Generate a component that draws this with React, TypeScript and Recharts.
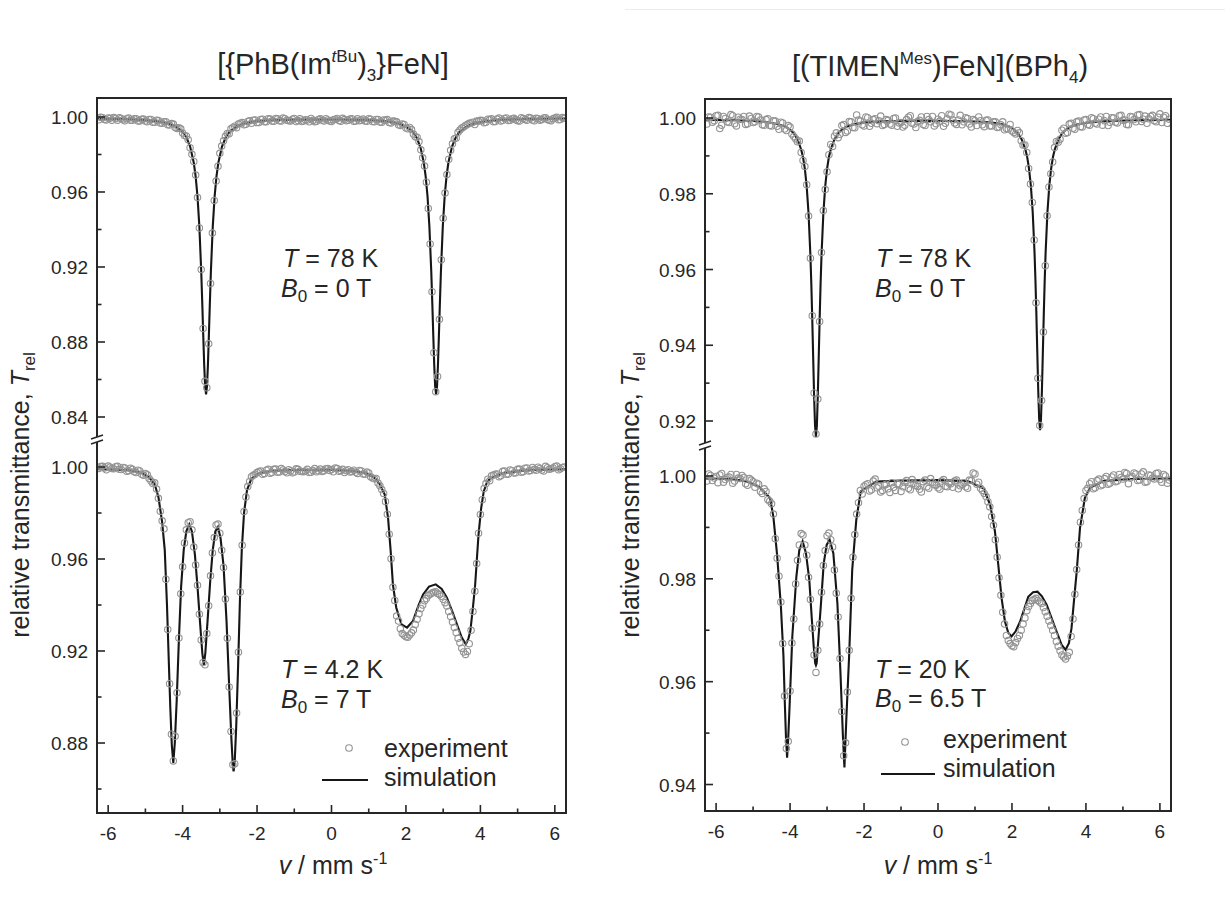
import React from 'react';
import { ComposedChart, Line, Scatter, XAxis, YAxis } from 'recharts';

// ---------- velocity channels (mm/s) of the experimental spectra ----------
const velocityA = [
  -6.2, -6.1, -6.0, -5.9, -5.8, -5.7, -5.6, -5.5, -5.4, -5.3,
  -5.2, -5.1, -5.0, -4.9, -4.8, -4.7, -4.6, -4.5, -4.4, -4.3,
  -4.2, -4.1, -4.0, -3.9, -3.8, -3.7, -3.6, -3.5, -3.4, -3.3,
  -3.2, -3.1, -3.0, -2.9, -2.8, -2.7, -2.6, -2.5, -2.4, -2.3,
  -2.2, -2.1, -2.0, -1.9, -1.8, -1.7, -1.6, -1.5, -1.4, -1.3,
  -1.2, -1.1, -1.0, -0.9, -0.8, -0.7, -0.6, -0.5, -0.4, -0.3,
  -0.2, -0.1, 0.0, 0.1, 0.2, 0.3, 0.4, 0.5, 0.6, 0.7,
  0.8, 0.9, 1.0, 1.1, 1.2, 1.3, 1.4, 1.5, 1.6, 1.7,
  1.8, 1.9, 2.0, 2.1, 2.2, 2.3, 2.4, 2.5, 2.6, 2.7,
  2.8, 2.9, 3.0, 3.1, 3.2, 3.3, 3.4, 3.5, 3.6, 3.7,
  3.8, 3.9, 4.0, 4.1, 4.2, 4.3, 4.4, 4.5, 4.6, 4.7,
  4.8, 4.9, 5.0, 5.1, 5.2, 5.3, 5.4, 5.5, 5.6, 5.7,
  5.8, 5.9, 6.0, 6.1, 6.2,
];
const velocityB = [
  -6.25, -6.15, -6.05, -5.95, -5.85, -5.75, -5.65, -5.55, -5.45, -5.35,
  -5.25, -5.15, -5.05, -4.95, -4.85, -4.75, -4.65, -4.55, -4.45, -4.35,
  -4.25, -4.15, -4.05, -3.95, -3.85, -3.75, -3.65, -3.55, -3.45, -3.35,
  -3.25, -3.15, -3.05, -2.95, -2.85, -2.75, -2.65, -2.55, -2.45, -2.35,
  -2.25, -2.15, -2.05, -1.95, -1.85, -1.75, -1.65, -1.55, -1.45, -1.35,
  -1.25, -1.15, -1.05, -0.95, -0.85, -0.75, -0.65, -0.55, -0.45, -0.35,
  -0.25, -0.15, -0.05, 0.05, 0.15, 0.25, 0.35, 0.45, 0.55, 0.65,
  0.75, 0.85, 0.95, 1.05, 1.15, 1.25, 1.35, 1.45, 1.55, 1.65,
  1.75, 1.85, 1.95, 2.05, 2.15, 2.25, 2.35, 2.45, 2.55, 2.65,
  2.75, 2.85, 2.95, 3.05, 3.15, 3.25, 3.35, 3.45, 3.55, 3.65,
  3.75, 3.85, 3.95, 4.05, 4.15, 4.25, 4.35, 4.45, 4.55, 4.65,
  4.75, 4.85, 4.95, 5.05, 5.15, 5.25, 5.35, 5.45, 5.55, 5.65,
  5.75, 5.85, 5.95, 6.05, 6.15, 6.25,
];

// ---------- [{PhB(Im^tBu)3}FeN], T = 78 K, B0 = 0 T ----------
const expPhB78A = [
  0.9998, 0.9986, 0.9995, 0.9983, 0.9992, 0.9996, 0.9985, 0.9991, 0.9982, 0.9990,
  0.9979, 0.9988, 0.9978, 0.9986, 0.9972, 0.9983, 0.9968, 0.9974, 0.9958, 0.9965,
  0.9944, 0.9942, 0.9914, 0.9899, 0.9836, 0.9763, 0.9570, 0.9186, 0.8590, 0.8790,
  0.9381, 0.9658, 0.9806, 0.9873, 0.9912, 0.9937, 0.9951, 0.9962, 0.9970, 0.9961,
  0.9980, 0.9983, 0.9970, 0.9987, 0.9975, 0.9991, 0.9978, 0.9992, 0.9980, 0.9994,
  0.9983, 0.9979, 0.9992, 0.9981, 0.9976, 0.9985, 0.9974, 0.9982, 0.9977, 0.9990,
  0.9978, 0.9984, 0.9976, 0.9988, 0.9981, 0.9993, 0.9980, 0.9989, 0.9977, 0.9990,
  0.9983, 0.9978, 0.9991, 0.9976, 0.9987, 0.9973, 0.9984, 0.9986, 0.9968, 0.9977,
  0.9958, 0.9963, 0.9941, 0.9944, 0.9909, 0.9892, 0.9825, 0.9738, 0.9512, 0.9068,
  0.8535, 0.8921, 0.9460, 0.9693, 0.9822, 0.9884, 0.9918, 0.9941, 0.9955, 0.9966,
  0.9972, 0.9978, 0.9982, 0.9969, 0.9988, 0.9990, 0.9976, 0.9994, 0.9982, 0.9995,
  0.9983, 0.9993, 0.9980, 0.9996, 0.9986, 0.9997, 0.9984, 0.9993, 0.9982, 0.9995,
  0.9987, 0.9980, 0.9994, 0.9985, 0.9997,
];
const expPhB78B = [
  0.9985, 0.9996, 0.9984, 0.9993, 0.9997, 0.9983, 0.9992, 0.9980, 0.9994, 0.9983,
  0.9991, 0.9978, 0.9989, 0.9975, 0.9987, 0.9972, 0.9981, 0.9966, 0.9975, 0.9957,
  0.9962, 0.9939, 0.9937, 0.9901, 0.9879, 0.9801, 0.9690, 0.9408, 0.8872, 0.8556,
  0.9112, 0.9555, 0.9737, 0.9845, 0.9897, 0.9911, 0.9944, 0.9943, 0.9967, 0.9958,
  0.9976, 0.9966, 0.9984, 0.9971, 0.9988, 0.9974, 0.9989, 0.9977, 0.9990, 0.9979,
  0.9991, 0.9980, 0.9988, 0.9976, 0.9990, 0.9979, 0.9984, 0.9992, 0.9975, 0.9986,
  0.9983, 0.9991, 0.9979, 0.9985, 0.9992, 0.9977, 0.9986, 0.9982, 0.9991, 0.9979,
  0.9980, 0.9989, 0.9977, 0.9988, 0.9975, 0.9986, 0.9972, 0.9983, 0.9970, 0.9978,
  0.9974, 0.9955, 0.9960, 0.9937, 0.9933, 0.9895, 0.9869, 0.9782, 0.9652, 0.9323,
  0.8743, 0.8616, 0.9239, 0.9594, 0.9775, 0.9857, 0.9888, 0.9930, 0.9947, 0.9960,
  0.9968, 0.9960, 0.9977, 0.9981, 0.9972, 0.9986, 0.9975, 0.9989, 0.9979, 0.9992,
  0.9981, 0.9990, 0.9985, 0.9978, 0.9992, 0.9983, 0.9995, 0.9980, 0.9991, 0.9986,
  0.9996, 0.9983, 0.9990, 0.9998, 0.9986, 0.9993,
];
const simPhB78 = [
  [-6.3, 0.9991], [-5.8, 0.999], [-5.3, 0.9987], [-4.9, 0.9982], [-4.6, 0.9975], [-4.4, 0.9966],
  [-4.2, 0.9951], [-4.0, 0.9921], [-3.9, 0.9892], [-3.8, 0.9844], [-3.7, 0.9756], [-3.65, 0.9683],
  [-3.6, 0.9576], [-3.55, 0.9415], [-3.5, 0.9177], [-3.47, 0.8995], [-3.445, 0.8832], [-3.42, 0.8677],
  [-3.395, 0.8563], [-3.37, 0.852], [-3.345, 0.8563], [-3.32, 0.8677], [-3.295, 0.8832], [-3.27, 0.8995],
  [-3.24, 0.9177], [-3.19, 0.9415], [-3.14, 0.9576], [-3.09, 0.9683], [-3.04, 0.9756], [-2.94, 0.9844],
  [-2.84, 0.9892], [-2.74, 0.9921], [-2.54, 0.9951], [-2.34, 0.9966], [-2.04, 0.9977], [-1.5, 0.9984],
  [-1.0, 0.9986], [0, 0.9987], [1.0, 0.9984], [1.4, 0.9979], [1.7, 0.997], [1.9, 0.9958],
  [2.1, 0.9936], [2.2, 0.9916], [2.3, 0.9885], [2.4, 0.9831], [2.48, 0.9756], [2.53, 0.9683],
  [2.58, 0.9576], [2.63, 0.9415], [2.68, 0.9177], [2.71, 0.8995], [2.735, 0.8832], [2.76, 0.8677],
  [2.785, 0.8563], [2.81, 0.852], [2.835, 0.8563], [2.86, 0.8677], [2.885, 0.8832], [2.91, 0.8995],
  [2.94, 0.9177], [2.99, 0.9415], [3.04, 0.9576], [3.09, 0.9683], [3.14, 0.9756], [3.24, 0.9844],
  [3.34, 0.9892], [3.44, 0.9921], [3.64, 0.9951], [3.84, 0.9966], [4.14, 0.9977], [4.6, 0.9985],
  [5.2, 0.9989], [6.3, 0.9992],
];

// ---------- [{PhB(Im^tBu)3}FeN], T = 4.2 K, B0 = 7 T ----------
const expPhB42A = [
  1.0002, 0.9996, 1.0004, 0.9993, 1.0001, 0.9990, 0.9998, 0.9982, 0.9995, 0.9979,
  0.9986, 0.9968, 0.9972, 0.9950, 0.9928, 0.9904, 0.9808, 0.9731, 0.9294, 0.8838,
  0.8829, 0.9257, 0.9566, 0.9727, 0.9762, 0.9652, 0.9486, 0.9248, 0.9140, 0.9397,
  0.9626, 0.9748, 0.9712, 0.9563, 0.9256, 0.8850, 0.8710, 0.9195, 0.9660, 0.9870,
  0.9937, 0.9964, 0.9976, 0.9983, 0.9972, 0.9990, 0.9976, 0.9991, 0.9978, 0.9987,
  0.9975, 0.9983, 0.9978, 0.9990, 0.9980, 0.9983, 0.9976, 0.9985, 0.9979, 0.9991,
  0.9984, 0.9994, 0.9989, 0.9996, 0.9982, 0.9990, 0.9984, 0.9978, 0.9986, 0.9972,
  0.9983, 0.9969, 0.9974, 0.9952, 0.9950, 0.9918, 0.9885, 0.9795, 0.9601, 0.9420,
  0.9330, 0.9276, 0.9262, 0.9270, 0.9291, 0.9338, 0.9385, 0.9418, 0.9441, 0.9452,
  0.9458, 0.9446, 0.9425, 0.9396, 0.9350, 0.9302, 0.9255, 0.9212, 0.9185, 0.9232,
  0.9372, 0.9580, 0.9794, 0.9906, 0.9947, 0.9962, 0.9969, 0.9958, 0.9981, 0.9968,
  0.9987, 0.9974, 0.9990, 0.9977, 0.9995, 0.9983, 0.9998, 0.9986, 0.9994, 0.9983,
  0.9997, 0.9992, 1.0001, 0.9988, 0.9998,
];
const expPhB42B = [
  0.9994, 1.0003, 0.9988, 0.9999, 0.9992, 1.0003, 0.9989, 0.9996, 0.9984, 0.9990,
  0.9976, 0.9983, 0.9964, 0.9966, 0.9939, 0.9931, 0.9864, 0.9766, 0.9512, 0.9058,
  0.8722, 0.9018, 0.9449, 0.9670, 0.9758, 0.9727, 0.9574, 0.9360, 0.9150, 0.9276,
  0.9527, 0.9693, 0.9752, 0.9638, 0.9426, 0.9044, 0.8706, 0.8930, 0.9457, 0.9806,
  0.9915, 0.9958, 0.9969, 0.9980, 0.9968, 0.9986, 0.9973, 0.9990, 0.9977, 0.9993,
  0.9980, 0.9988, 0.9975, 0.9992, 0.9982, 0.9979, 0.9990, 0.9977, 0.9993, 0.9984,
  0.9980, 0.9992, 0.9985, 0.9979, 0.9993, 0.9984, 0.9976, 0.9988, 0.9980, 0.9977,
  0.9985, 0.9970, 0.9978, 0.9958, 0.9949, 0.9930, 0.9902, 0.9850, 0.9708, 0.9477,
  0.9352, 0.9297, 0.9268, 0.9260, 0.9279, 0.9315, 0.9362, 0.9400, 0.9428, 0.9447,
  0.9455, 0.9450, 0.9438, 0.9410, 0.9372, 0.9326, 0.9280, 0.9236, 0.9196, 0.9198,
  0.9290, 0.9460, 0.9712, 0.9858, 0.9928, 0.9940, 0.9965, 0.9970, 0.9962, 0.9983,
  0.9970, 0.9984, 0.9975, 0.9991, 0.9979, 0.9996, 0.9985, 0.9990, 0.9999, 0.9987,
  1.0003, 0.9990, 0.9996, 1.0004, 0.9992, 1.0000,
];
const simPhB42 = [
  [-6.3, 0.999], [-5.8, 0.9989], [-5.4, 0.9985], [-5.1, 0.9975], [-4.9, 0.9955], [-4.75, 0.9925],
  [-4.65, 0.987], [-4.55, 0.976], [-4.48, 0.964], [-4.42, 0.94], [-4.37, 0.915], [-4.33, 0.895],
  [-4.29, 0.879], [-4.25, 0.8713], [-4.21, 0.88], [-4.16, 0.898], [-4.1, 0.925], [-4.04, 0.948],
  [-3.97, 0.964], [-3.9, 0.972], [-3.82, 0.9751], [-3.75, 0.972], [-3.67, 0.962], [-3.6, 0.948],
  [-3.53, 0.932], [-3.47, 0.919], [-3.43, 0.914], [-3.39, 0.919], [-3.33, 0.933], [-3.26, 0.95],
  [-3.19, 0.964], [-3.12, 0.972], [-3.05, 0.974], [-2.98, 0.969], [-2.9, 0.957], [-2.82, 0.933],
  [-2.75, 0.905], [-2.69, 0.882], [-2.65, 0.87], [-2.63, 0.8677], [-2.6, 0.872], [-2.56, 0.887],
  [-2.51, 0.913], [-2.46, 0.942], [-2.41, 0.964], [-2.35, 0.98], [-2.27, 0.99], [-2.15, 0.995],
  [-1.95, 0.9972], [-1.6, 0.9983], [-1.0, 0.9987], [-0.5, 0.9988], [0, 0.9988], [0.5, 0.9984],
  [0.9, 0.9975], [1.15, 0.9955], [1.3, 0.9925], [1.43, 0.988], [1.52, 0.9778], [1.59, 0.9634],
  [1.65, 0.9489], [1.74, 0.9388], [1.88, 0.9316], [2.03, 0.9302], [2.19, 0.9331], [2.33, 0.9395],
  [2.46, 0.9446], [2.62, 0.948], [2.8, 0.949], [2.96, 0.947], [3.1, 0.9432], [3.25, 0.937],
  [3.37, 0.9316], [3.5, 0.9258], [3.61, 0.9229], [3.68, 0.9255], [3.73, 0.9287], [3.8, 0.939],
  [3.86, 0.9489], [3.91, 0.961], [3.95, 0.9706], [4.02, 0.982], [4.09, 0.9894], [4.18, 0.9935],
  [4.27, 0.9952], [4.63, 0.9974], [5.1, 0.9983], [5.53, 0.9988], [6.3, 0.999],
];

// ---------- [(TIMEN^Mes)FeN](BPh4), T = 78 K, B0 = 0 T ----------
const expTimen78A = [
  1.0003, 0.9989, 1.0006, 0.9972, 1.0004, 0.9990, 1.0009, 0.9985, 1.0002, 0.9996,
  0.9983, 1.0005, 0.9988, 1.0004, 0.9995, 0.9981, 0.9998, 0.9979, 0.9992, 0.9970,
  0.9987, 0.9967, 0.9976, 0.9951, 0.9937, 0.9909, 0.9872, 0.9741, 0.9478, 0.9166,
  0.9463, 0.9756, 0.9858, 0.9930, 0.9952, 0.9948, 0.9980, 0.9962, 0.9991, 0.9975,
  1.0008, 0.9992, 0.9979, 1.0001, 0.9986, 0.9998, 0.9993, 0.9980, 0.9996, 0.9984,
  0.9999, 0.9978, 0.9988, 0.9981, 1.0002, 0.9986, 0.9975, 0.9994, 0.9983, 1.0004,
  0.9990, 0.9979, 0.9997, 1.0006, 0.9986, 1.0010, 0.9995, 0.9983, 1.0007, 0.9990,
  0.9999, 0.9976, 0.9993, 1.0003, 0.9982, 0.9994, 0.9979, 0.9990, 0.9975, 0.9982,
  0.9969, 0.9971, 0.9966, 0.9958, 0.9961, 0.9929, 0.9909, 0.9826, 0.9678, 0.9313,
  0.9254, 0.9610, 0.9818, 0.9884, 0.9938, 0.9944, 0.9973, 0.9962, 0.9986, 0.9970,
  0.9992, 0.9976, 0.9996, 0.9981, 0.9998, 0.9984, 1.0003, 0.9993, 0.9980, 1.0001,
  0.9989, 1.0006, 0.9994, 0.9983, 1.0004, 0.9996, 1.0008, 0.9991, 1.0005, 0.9998,
  1.0007, 0.9990, 1.0011, 1.0002, 0.9986,
];
const expTimen78B = [
  0.9984, 1.0002, 0.9993, 1.0007, 0.9981, 0.9999, 0.9988, 1.0006, 0.9979, 0.9997,
  1.0004, 0.9985, 0.9999, 0.9990, 1.0003, 0.9982, 0.9996, 0.9980, 0.9993, 0.9978,
  0.9989, 0.9971, 0.9980, 0.9958, 0.9945, 0.9939, 0.9888, 0.9824, 0.9630, 0.9274,
  0.9258, 0.9645, 0.9811, 0.9903, 0.9925, 0.9961, 0.9957, 0.9983, 0.9966, 0.9990,
  0.9974, 0.9995, 0.9982, 1.0003, 0.9978, 0.9996, 0.9985, 1.0005, 0.9983, 0.9994,
  0.9981, 1.0000, 0.9987, 0.9976, 0.9996, 1.0006, 0.9984, 0.9991, 1.0003, 0.9980,
  0.9996, 1.0004, 0.9985, 0.9992, 0.9978, 0.9998, 1.0008, 0.9987, 0.9995, 0.9982,
  1.0001, 0.9984, 0.9996, 0.9980, 0.9993, 0.9977, 0.9995, 0.9979, 0.9990, 0.9976,
  0.9990, 0.9972, 0.9983, 0.9962, 0.9967, 0.9940, 0.9929, 0.9867, 0.9777, 0.9512,
  0.9188, 0.9435, 0.9742, 0.9853, 0.9922, 0.9936, 0.9968, 0.9960, 0.9984, 0.9973,
  0.9990, 0.9977, 0.9995, 0.9983, 1.0001, 0.9986, 0.9997, 0.9981, 1.0004, 0.9989,
  1.0000, 0.9987, 1.0007, 0.9995, 0.9982, 1.0003, 0.9990, 1.0009, 0.9997, 0.9986,
  1.0004, 0.9993, 1.0002, 0.9988, 1.0006, 0.9997,
];
const simTimen78 = [
  [-6.3, 0.9995], [-5.5, 0.9994], [-5.0, 0.9992], [-4.6, 0.9989], [-4.3, 0.9983], [-4.1, 0.9976],
  [-4.0, 0.9969], [-3.9, 0.996], [-3.8, 0.9944], [-3.7, 0.9917], [-3.65, 0.9897], [-3.6, 0.9866],
  [-3.55, 0.9819], [-3.5, 0.9748], [-3.45, 0.9637], [-3.425, 0.9561], [-3.4, 0.947], [-3.375, 0.9368],
  [-3.35, 0.9266], [-3.325, 0.9188], [-3.3, 0.9158], [-3.275, 0.9188], [-3.25, 0.9266], [-3.225, 0.9368],
  [-3.2, 0.947], [-3.175, 0.9561], [-3.15, 0.9637], [-3.1, 0.9748], [-3.05, 0.9819], [-3.0, 0.9866],
  [-2.95, 0.9897], [-2.9, 0.9917], [-2.8, 0.9944], [-2.7, 0.996], [-2.6, 0.9969], [-2.5, 0.9976],
  [-2.3, 0.9983], [-2.0, 0.9988], [-1.5, 0.9991], [-0.5, 0.9993], [0.5, 0.9992], [1.2, 0.999],
  [1.56, 0.9987], [1.76, 0.9983], [1.96, 0.9976], [2.06, 0.9969], [2.16, 0.996], [2.26, 0.9944],
  [2.36, 0.9918], [2.41, 0.9898], [2.46, 0.9867], [2.51, 0.9822], [2.56, 0.9753], [2.61, 0.9645],
  [2.635, 0.9571], [2.66, 0.9481], [2.685, 0.9381], [2.71, 0.9282], [2.735, 0.9206], [2.76, 0.9176],
  [2.785, 0.9206], [2.81, 0.9282], [2.835, 0.9381], [2.86, 0.9481], [2.885, 0.9571], [2.91, 0.9645],
  [2.96, 0.9753], [3.01, 0.9822], [3.06, 0.9867], [3.11, 0.9898], [3.16, 0.9918], [3.26, 0.9944],
  [3.36, 0.996], [3.46, 0.9969], [3.56, 0.9976], [3.76, 0.9983], [4.06, 0.9988], [4.6, 0.9992],
  [5.3, 0.9994], [6.3, 0.9995],
];

// ---------- [(TIMEN^Mes)FeN](BPh4), T = 20 K, B0 = 6.5 T ----------
const expTimen20A = [
  1.0004, 0.9991, 0.9999, 1.0002, 0.9988, 0.9997, 1.0003, 0.9990, 0.9996, 1.0001,
  0.9985, 0.9995, 0.9989, 0.9986, 0.9970, 0.9975, 0.9954, 0.9946, 0.9878, 0.9805,
  0.9674, 0.9470, 0.9582, 0.9722, 0.9836, 0.9888, 0.9866, 0.9803, 0.9704, 0.9618,
  0.9712, 0.9826, 0.9884, 0.9876, 0.9817, 0.9726, 0.9542, 0.9481, 0.9661, 0.9842,
  0.9926, 0.9972, 0.9980, 0.9985, 0.9973, 0.9994, 0.9980, 0.9972, 0.9984, 0.9968,
  0.9978, 0.9985, 0.9970, 0.9988, 0.9976, 0.9993, 0.9981, 0.9974, 0.9989, 0.9979,
  0.9995, 0.9983, 0.9977, 0.9990, 0.9980, 0.9986, 0.9978, 0.9992, 0.9981, 0.9987,
  0.9976, 0.9991, 1.0004, 0.9988, 0.9972, 0.9960, 0.9940, 0.9904, 0.9842, 0.9768,
  0.9712, 0.9680, 0.9670, 0.9676, 0.9690, 0.9712, 0.9738, 0.9752, 0.9760, 0.9758,
  0.9752, 0.9736, 0.9718, 0.9700, 0.9678, 0.9660, 0.9648, 0.9650, 0.9688, 0.9770,
  0.9866, 0.9933, 0.9972, 0.9985, 0.9975, 0.9991, 0.9981, 0.9995, 0.9984, 0.9998,
  0.9989, 1.0003, 0.9994, 1.0005, 0.9996, 1.0006, 0.9991, 1.0004, 0.9988, 1.0002,
  0.9996, 1.0005, 0.9993, 1.0003, 0.9986,
];
const expTimen20B = [
  0.9990, 1.0001, 0.9996, 0.9987, 1.0005, 0.9993, 0.9998, 0.9986, 1.0003, 0.9995,
  0.9997, 0.9982, 0.9992, 0.9978, 0.9984, 0.9966, 0.9970, 0.9951, 0.9926, 0.9840,
  0.9755, 0.9572, 0.9484, 0.9675, 0.9790, 0.9866, 0.9885, 0.9846, 0.9760, 0.9652,
  0.9661, 0.9774, 0.9855, 0.9889, 0.9862, 0.9772, 0.9645, 0.9456, 0.9580, 0.9762,
  0.9886, 0.9948, 0.9965, 0.9983, 0.9971, 0.9990, 0.9977, 0.9969, 0.9982, 0.9975,
  0.9987, 0.9972, 0.9984, 0.9979, 0.9991, 0.9973, 0.9986, 0.9980, 0.9969, 0.9992,
  0.9976, 0.9988, 0.9982, 0.9974, 0.9993, 0.9979, 0.9985, 0.9990, 0.9975, 0.9983,
  0.9979, 0.9992, 1.0006, 0.9984, 0.9976, 0.9966, 0.9950, 0.9921, 0.9876, 0.9802,
  0.9735, 0.9690, 0.9674, 0.9668, 0.9684, 0.9700, 0.9724, 0.9746, 0.9758, 0.9762,
  0.9755, 0.9744, 0.9727, 0.9709, 0.9690, 0.9669, 0.9652, 0.9644, 0.9657, 0.9722,
  0.9818, 0.9910, 0.9956, 0.9976, 0.9989, 0.9977, 0.9994, 0.9983, 0.9999, 0.9986,
  1.0002, 0.9990, 0.9997, 1.0007, 0.9985, 0.9999, 1.0004, 0.9992, 1.0008, 0.9989,
  1.0001, 0.9994, 1.0006, 0.9988, 1.0000, 0.9992,
];
const simTimen20 = [
  [-6.3, 0.9995], [-5.6, 0.9994], [-5.2, 0.999], [-4.84, 0.9979], [-4.54, 0.9957], [-4.45, 0.992],
  [-4.35, 0.9846], [-4.25, 0.9749], [-4.18, 0.9652], [-4.14, 0.9555], [-4.11, 0.949], [-4.08, 0.9452],
  [-4.05, 0.949], [-4.01, 0.9558], [-3.94, 0.9687], [-3.83, 0.9804], [-3.75, 0.9856], [-3.66, 0.9873],
  [-3.57, 0.985], [-3.48, 0.9798], [-3.41, 0.972], [-3.36, 0.9668], [-3.32, 0.9636], [-3.3, 0.9632],
  [-3.28, 0.9636], [-3.25, 0.9668], [-3.17, 0.9746], [-3.09, 0.983], [-3.01, 0.9866], [-2.93, 0.9876],
  [-2.83, 0.985], [-2.72, 0.9752], [-2.64, 0.9622], [-2.57, 0.9493], [-2.53, 0.9433], [-2.48, 0.9525],
  [-2.4, 0.9655], [-2.32, 0.9817], [-2.21, 0.9914], [-2.09, 0.997], [-1.67, 0.9989], [-1.0, 0.9991],
  [0, 0.9992], [0.8, 0.999], [1.23, 0.9976], [1.41, 0.9944], [1.54, 0.9892], [1.63, 0.9827],
  [1.72, 0.9762], [1.81, 0.9717], [1.9, 0.9695], [1.99, 0.9688], [2.1, 0.9698], [2.22, 0.9717],
  [2.44, 0.9765], [2.57, 0.9774], [2.69, 0.9775], [2.81, 0.9766], [2.94, 0.9749], [3.21, 0.9697],
  [3.34, 0.9672], [3.45, 0.9662], [3.54, 0.9675], [3.61, 0.9704], [3.68, 0.976], [3.75, 0.9814],
  [3.84, 0.9899], [3.97, 0.9957], [4.11, 0.9977], [4.47, 0.999], [5.2, 0.9994], [6.3, 0.9995],
];

// ---------- axis ticks ----------
const velocityTicks = [-6, -5, -4, -3, -2, -1, 0, 1, 2, 3, 4, 5, 6];
const velocityMajor = [-6, -4, -2, 0, 2, 4, 6];
const velocityLabels = ['-6', '-4', '-2', '0', '2', '4', '6'];

const phb78Ticks = [0.84, 0.86, 0.88, 0.9, 0.92, 0.94, 0.96, 0.98, 1.0];
const phb78Major = [0.84, 0.88, 0.92, 0.96, 1.0];
const phb78Labels = ['0.84', '0.88', '0.92', '0.96', '1.00'];

const phb42Ticks = [0.86, 0.88, 0.9, 0.92, 0.94, 0.96, 0.98, 1.0];
const phb42Major = [0.88, 0.92, 0.96, 1.0];
const phb42Labels = ['0.88', '0.92', '0.96', '1.00'];

const timen78Ticks = [0.92, 0.93, 0.94, 0.95, 0.96, 0.97, 0.98, 0.99, 1.0];
const timen78Major = [0.92, 0.94, 0.96, 0.98, 1.0];
const timen78Labels = ['0.92', '0.94', '0.96', '0.98', '1.00'];

const timen20Ticks = [0.94, 0.95, 0.96, 0.97, 0.98, 0.99, 1.0];
const timen20Major = [0.94, 0.96, 0.98, 1.0];
const timen20Labels = ['0.94', '0.96', '0.98', '1.00'];

// ---------- styling ----------
const FONT = '"Liberation Sans", Arial, Helvetica, sans-serif';
const INK = '#262626';

type Pt = { v: number; t: number };
const fromPairs = (pairs: number[][]): Pt[] => pairs.map(([v, t]) => ({ v, t }));
const fromChannels = (a: number[], b: number[]): Pt[] => {
  const pa = a.slice(0, velocityA.length).map((t, i) => ({ v: velocityA[i], t }));
  const pb = b.slice(0, velocityB.length).map((t, i) => ({ v: velocityB[i], t }));
  return [...pa, ...pb].sort((p, q) => p.v - q.v);
};

const makeYTick = (majors: number[], labels: string[]) => (props: any) => {
  const { x, y, payload } = props;
  const i = majors.findIndex((m) => Math.abs(m - payload.value) < 1e-6);
  const major = i >= 0;
  return (
    <g>
      <line x1={x} x2={x + (major ? 8 : 4.5)} y1={y} y2={y} stroke={INK} strokeWidth={1.6} />
      {major ? (
        <text x={x - 9} y={y + 7} textAnchor="end" fontSize={19} fill={INK} fontFamily={FONT}>
          {labels[i]}
        </text>
      ) : null}
    </g>
  );
};

const xTick = (props: any) => {
  const { x, y, payload } = props;
  const i = velocityMajor.findIndex((m) => Math.abs(m - payload.value) < 1e-6);
  const major = i >= 0;
  return (
    <g>
      <line x1={x} x2={x} y1={y} y2={y - (major ? 8 : 4.5)} stroke={INK} strokeWidth={1.6} />
      {major ? (
        <text x={x} y={y + 27} textAnchor="middle" fontSize={19} fill={INK} fontFamily={FONT}>
          {velocityLabels[i]}
        </text>
      ) : null}
    </g>
  );
};

const circleShape = (props: any) => (
  <circle cx={props.cx} cy={props.cy} r={3.2} fill="none" stroke="#939393" strokeWidth={1.1} />
);

type SubProps = {
  left: number;
  top: number;
  plotLeft: number;
  plotWidth: number;
  plotHeight: number;
  yDomain: [number, number];
  yTicks: number[];
  yMajor: number[];
  yLabels: string[];
  exp: Pt[];
  sim: Pt[];
  showX: boolean;
};

function SubPlot(p: SubProps) {
  const xAxisH = 40;
  const w = p.plotLeft + p.plotWidth;
  const h = p.plotHeight + (p.showX ? xAxisH : 0);
  return (
    <div style={{ position: 'absolute', left: p.left, top: p.top }}>
      <ComposedChart width={w} height={h} margin={{ top: 0, right: 0, bottom: 0, left: 0 }}>
        <XAxis
          type="number"
          dataKey="v"
          domain={[-6.3, 6.3]}
          ticks={velocityTicks}
          interval={0}
          allowDataOverflow
          hide={!p.showX}
          height={xAxisH}
          axisLine={false}
          tickLine={false}
          tickSize={0}
          tickMargin={0}
          tick={xTick}
        />
        <YAxis
          type="number"
          dataKey="t"
          domain={p.yDomain}
          ticks={p.yTicks}
          interval={0}
          allowDataOverflow
          width={p.plotLeft}
          axisLine={false}
          tickLine={false}
          tickSize={0}
          tickMargin={0}
          tick={makeYTick(p.yMajor, p.yLabels)}
        />
        <Scatter data={p.exp} shape={circleShape} isAnimationActive={false} />
        <Line
          data={p.sim}
          dataKey="t"
          type="linear"
          dot={false}
          activeDot={false}
          stroke="#161616"
          strokeWidth={2.1}
          isAnimationActive={false}
        />
      </ComposedChart>
    </div>
  );
}

function BreakMark({ x, y }: { x: number; y: number }) {
  return (
    <g>
      <polygon points={`${x - 6},${y + 1} ${x + 6},${y - 3} ${x + 6},${y + 2} ${x - 6},${y + 6}`} fill="#fff" />
      <line x1={x - 6} y1={y + 1} x2={x + 6} y2={y - 3} stroke={INK} strokeWidth={1.5} />
      <line x1={x - 6} y1={y + 6} x2={x + 6} y2={y + 2} stroke={INK} strokeWidth={1.5} />
    </g>
  );
}

export default function App() {
  const tStyle = { fontFamily: FONT, fill: INK } as const;
  return (
    <div style={{ position: 'absolute', left: 0, top: 0, width: 1225, height: 899, background: '#fff', overflow: 'hidden' }}>
      {/* left panel */}
      <SubPlot left={0} top={98} plotLeft={97} plotWidth={469} plotHeight={342}
        yDomain={[0.82773, 1.01013]} yTicks={phb78Ticks} yMajor={phb78Major} yLabels={phb78Labels}
        exp={fromChannels(expPhB78A, expPhB78B)} sim={fromPairs(simPhB78)} showX={false} />
      <SubPlot left={0} top={440} plotLeft={97} plotWidth={469} plotHeight={373}
        yDomain={[0.84957, 1.01174]} yTicks={phb42Ticks} yMajor={phb42Major} yLabels={phb42Labels}
        exp={fromChannels(expPhB42A, expPhB42B)} sim={fromPairs(simPhB42)} showX={true} />
      {/* right panel */}
      <SubPlot left={610} top={99} plotLeft={95} plotWidth={466} plotHeight={347}
        yDomain={[0.9134, 1.00502]} yTicks={timen78Ticks} yMajor={timen78Major} yLabels={timen78Labels}
        exp={fromChannels(expTimen78A, expTimen78B)} sim={fromPairs(simTimen78)} showX={false} />
      <SubPlot left={610} top={446} plotLeft={95} plotWidth={466} plotHeight={365}
        yDomain={[0.93485, 1.00583]} yTicks={timen20Ticks} yMajor={timen20Major} yLabels={timen20Labels}
        exp={fromChannels(expTimen20A, expTimen20B)} sim={fromPairs(simTimen20)} showX={true} />

      {/* frames */}
      <div style={{ position: 'absolute', left: 96, top: 97, width: 471, height: 717, border: `2px solid ${INK}`, boxSizing: 'border-box', pointerEvents: 'none' }} />
      <div style={{ position: 'absolute', left: 704, top: 98, width: 468, height: 714, border: `2px solid ${INK}`, boxSizing: 'border-box', pointerEvents: 'none' }} />

      <svg width={1225} height={899} style={{ position: 'absolute', left: 0, top: 0, pointerEvents: 'none' }}>
        <line x1={625} y1={9.5} x2={1225} y2={9.5} stroke="#ececec" strokeWidth={1} />
        <BreakMark x={97} y={438} />
        <BreakMark x={705} y={444} />

        {/* titles */}
        <text x={333} y={74} textAnchor="middle" fontSize={29} style={tStyle}>
          [{'{'}PhB(Im
          <tspan dy={-12} fontSize={17} fontStyle="italic">t</tspan>
          <tspan fontSize={17}>Bu</tspan>
          <tspan dy={12}>)</tspan>
          <tspan dy={7} fontSize={17}>3</tspan>
          <tspan dy={-7}>{'}'}FeN]</tspan>
        </text>
        <text x={940} y={76} textAnchor="middle" fontSize={29} style={tStyle}>
          [(TIMEN
          <tspan dy={-12} fontSize={17}>Mes</tspan>
          <tspan dy={12}>)FeN](BPh</tspan>
          <tspan dy={7} fontSize={17}>4</tspan>
          <tspan dy={-7}>)</tspan>
        </text>

        {/* y labels */}
        <text transform="translate(29,495) rotate(-90)" textAnchor="middle" fontSize={25} style={tStyle}>
          relative transmittance, <tspan fontStyle="italic">T</tspan>
          <tspan dy={6} fontSize={17}>rel</tspan>
        </text>
        <text transform="translate(639,495) rotate(-90)" textAnchor="middle" fontSize={25} style={tStyle}>
          relative transmittance, <tspan fontStyle="italic">T</tspan>
          <tspan dy={6} fontSize={17}>rel</tspan>
        </text>

        {/* x labels */}
        <text x={333} y={874} textAnchor="middle" fontSize={25} style={tStyle}>
          <tspan fontStyle="italic">v</tspan> / mm s<tspan dy={-10} fontSize={16}>-1</tspan>
        </text>
        <text x={938} y={874} textAnchor="middle" fontSize={25} style={tStyle}>
          <tspan fontStyle="italic">v</tspan> / mm s<tspan dy={-10} fontSize={16}>-1</tspan>
        </text>

        {/* annotations, left */}
        <text x={283} y={267} fontSize={25} style={tStyle}>
          <tspan fontStyle="italic">T</tspan> = 78 K
        </text>
        <text x={281} y={297} fontSize={25} style={tStyle}>
          <tspan fontStyle="italic">B</tspan><tspan dy={5} fontSize={17}>0</tspan><tspan dy={-5}> = 0 T</tspan>
        </text>
        <text x={281} y={678} fontSize={25} style={tStyle}>
          <tspan fontStyle="italic">T</tspan> = 4.2 K
        </text>
        <text x={281} y={708} fontSize={25} style={tStyle}>
          <tspan fontStyle="italic">B</tspan><tspan dy={5} fontSize={17}>0</tspan><tspan dy={-5}> = 7 T</tspan>
        </text>
        <circle cx={349} cy={748} r={3.3} fill="none" stroke="#939393" strokeWidth={1.1} />
        <text x={384} y={757} fontSize={25} style={tStyle}>experiment</text>
        <line x1={322} y1={780} x2={368} y2={780} stroke="#161616" strokeWidth={2.1} />
        <text x={384} y={786} fontSize={25} style={tStyle}>simulation</text>

        {/* annotations, right */}
        <text x={876} y={267} fontSize={25} style={tStyle}>
          <tspan fontStyle="italic">T</tspan> = 78 K
        </text>
        <text x={875} y={297} fontSize={25} style={tStyle}>
          <tspan fontStyle="italic">B</tspan><tspan dy={5} fontSize={17}>0</tspan><tspan dy={-5}> = 0 T</tspan>
        </text>
        <text x={875} y={678} fontSize={25} style={tStyle}>
          <tspan fontStyle="italic">T</tspan> = 20 K
        </text>
        <text x={875} y={707} fontSize={25} style={tStyle}>
          <tspan fontStyle="italic">B</tspan><tspan dy={5} fontSize={17}>0</tspan><tspan dy={-5}> = 6.5 T</tspan>
        </text>
        <circle cx={905} cy={742} r={3.3} fill="none" stroke="#939393" strokeWidth={1.1} />
        <text x={943} y={748} fontSize={25} style={tStyle}>experiment</text>
        <line x1={881} y1={774} x2={935} y2={774} stroke="#161616" strokeWidth={2.1} />
        <text x={943} y={777} fontSize={25} style={tStyle}>simulation</text>
      </svg>
    </div>
  );
}
